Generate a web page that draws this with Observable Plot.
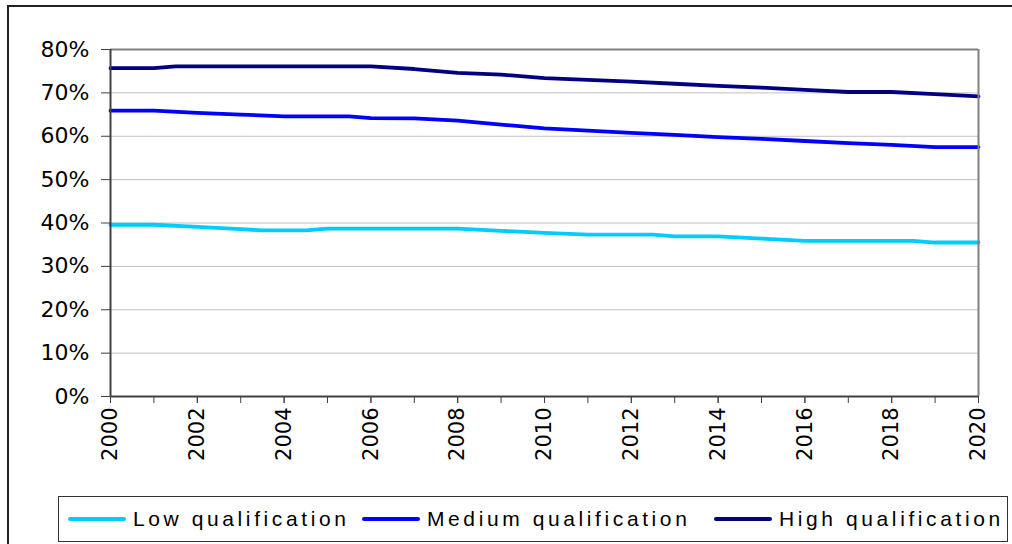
<!DOCTYPE html>
<html>
<head>
<meta charset="utf-8">
<script src="https://cdn.jsdelivr.net/npm/d3@7"></script>
<script src="https://cdn.jsdelivr.net/npm/@observablehq/plot@0.6"></script>
<style>
  html, body { margin: 0; padding: 0; background: #fff; }
  #wrap { position: relative; width: 1012px; height: 544px; overflow: hidden; background: #fff; }
  #frame { position: absolute; left: 7px; top: 5px; width: 1100px; height: 600px; border: 2px solid #222; box-sizing: border-box; }
  #chart { position: absolute; left: 0; top: 0; }
  #legend { position: absolute; left: 58px; top: 496px; width: 950px; height: 46px; border: 1px solid #333; box-sizing: border-box; background: #fff; }
  .item { position: absolute; top: 0; height: 44px; display: flex; align-items: center; font-family: "Liberation Sans", Arial, sans-serif; font-size: 21px; letter-spacing: 3.6px; color: #000; white-space: nowrap; }
  .swatch { width: 58px; height: 4px; border-radius: 2px; margin-right: 7px; }
</style>
</head>
<body>
<div id="wrap">
  <div id="frame"></div>
  <div id="chart"></div>
  <div id="legend"></div>
</div>
<script>
// Series names and colours
const seriesNames = ["Low qualification", "Medium qualification", "High qualification"];
const seriesColors = ["#00ccff", "#0000ff", "#000080"];

// Low qualification
const lowYears  = [2000, 2001, 2002, 2003, 2003.5, 2004.5, 2005, 2008, 2009, 2010, 2011, 2012.5, 2013, 2014, 2015, 2016, 2018.5, 2019, 2020];
const lowValues = [0.396, 0.396, 0.391, 0.386, 0.383, 0.383, 0.387, 0.387, 0.382, 0.377, 0.373, 0.373, 0.369, 0.369, 0.364, 0.359, 0.359, 0.355, 0.355];

// Medium qualification
const medYears  = [2000, 2001, 2002, 2003, 2004, 2005.5, 2006, 2007, 2008, 2009, 2010, 2011, 2012, 2013, 2014, 2015, 2016, 2017, 2018, 2019, 2020];
const medValues = [0.659, 0.659, 0.654, 0.650, 0.646, 0.646, 0.642, 0.641, 0.636, 0.627, 0.618, 0.613, 0.608, 0.603, 0.598, 0.594, 0.589, 0.584, 0.580, 0.575, 0.575];

// High qualification
const highYears  = [2000, 2001, 2001.5, 2006, 2007, 2008, 2009, 2010, 2011, 2012, 2013, 2014, 2015, 2016, 2017, 2018, 2019, 2020];
const highValues = [0.757, 0.757, 0.761, 0.761, 0.755, 0.746, 0.742, 0.734, 0.730, 0.726, 0.721, 0.716, 0.712, 0.707, 0.702, 0.702, 0.697, 0.692];

// Ticks
const yTicks = [0, 0.1, 0.2, 0.3, 0.4, 0.5, 0.6, 0.7, 0.8];
const xTicksAll = d3.range(2000, 2021);
const xTickLabels = [2000, 2002, 2004, 2006, 2008, 2010, 2012, 2014, 2016, 2018, 2020];

const rows = [];
[[lowYears, lowValues], [medYears, medValues], [highYears, highValues]].forEach(([ys, vs], i) => {
  ys.forEach((yr, j) => rows.push({series: seriesNames[i], year: yr, value: vs[j]}));
});

const axisColor = "#404040";

const chart = Plot.plot({
  width: 1012,
  height: 490,
  marginLeft: 110,
  marginRight: 34,
  marginTop: 49,
  marginBottom: 94,
  style: { fontFamily: "DejaVu Sans, sans-serif", fontSize: "20px", background: "transparent", color: "#000" },
  x: { domain: [2000, 2020] },
  y: { domain: [0, 0.8] },
  color: { domain: seriesNames, range: seriesColors },
  marks: [
    Plot.ruleY(yTicks.slice(1, -1), { stroke: "#c0c0c0", strokeWidth: 1 }),
    Plot.line(rows, { x: "year", y: "value", z: "series", stroke: "series", strokeWidth: 3.8 }),
    Plot.ruleY([0.8], { stroke: "#808080", strokeWidth: 2 }),
    Plot.ruleX([2020], { stroke: "#808080", strokeWidth: 2 }),
    Plot.axisY({ ticks: yTicks, tickFormat: d3.format(".0%"), tickSize: 9, tickPadding: 12, fontSize: 22, stroke: axisColor, fill: "#000", label: null }),
    Plot.axisX({ ticks: xTicksAll, tickFormat: () => "", tickSize: 7, stroke: axisColor, label: null }),
    Plot.axisX({ ticks: xTickLabels, tickFormat: d => String(d), tickSize: 7, tickPadding: 4, tickRotate: -90, fontSize: 21, stroke: axisColor, fill: "#000", label: null }),
    Plot.ruleX([2000], { stroke: axisColor, strokeWidth: 2 }),
    Plot.ruleY([0], { stroke: axisColor, strokeWidth: 2 })
  ]
});
document.getElementById("chart").appendChild(chart);

// Legend
const legend = document.getElementById("legend");
const offsets = [9, 303, 655];
seriesNames.forEach((name, i) => {
  const item = document.createElement("div");
  item.className = "item";
  item.style.left = offsets[i] + "px";
  const sw = document.createElement("span");
  sw.className = "swatch";
  sw.style.background = seriesColors[i];
  const tx = document.createElement("span");
  tx.textContent = name;
  item.appendChild(sw);
  item.appendChild(tx);
  legend.appendChild(item);
});
</script>
</body>
</html>
